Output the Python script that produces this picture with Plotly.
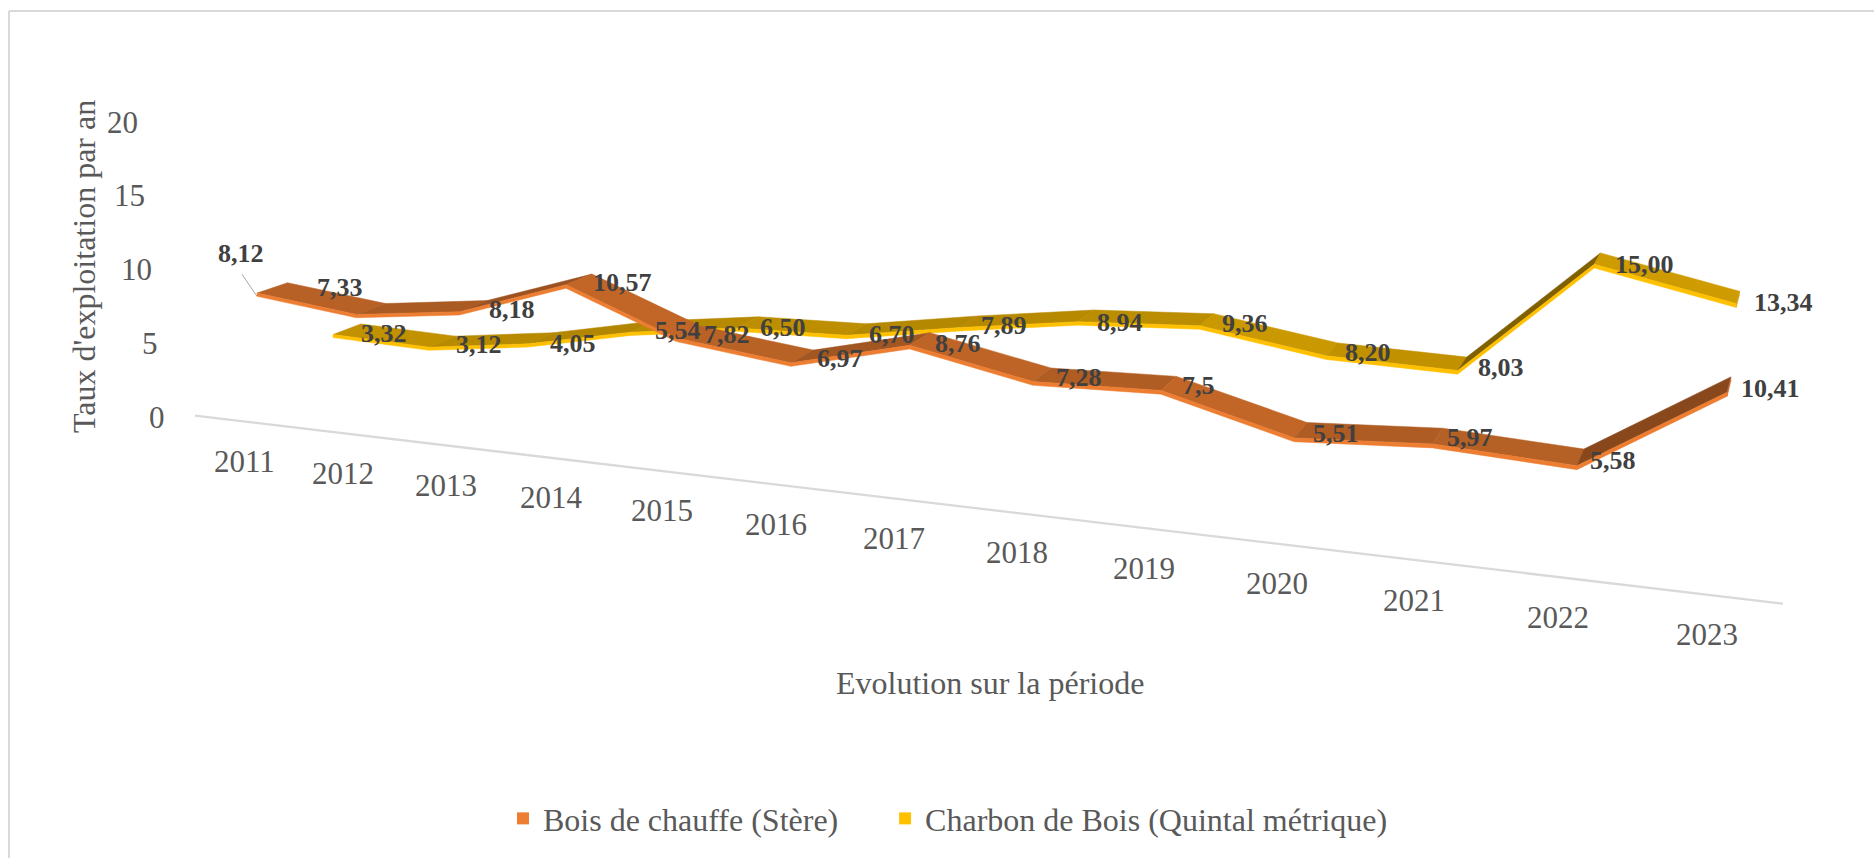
import plotly.graph_objects as go

# ---- data ----
years = [2011, 2012, 2013, 2014, 2015, 2016, 2017, 2018, 2019, 2020, 2021, 2022, 2023]
bois_de_chauffe = [8.12, 7.33, 8.18, 10.57, 7.82, 6.97, 8.76, 7.28, 7.5, 5.51, 5.97, 5.58, 10.41]
bois_labels = ["8,12", "7,33", "8,18", "10,57", "7,82", "6,97", "8,76", "7,28", "7,5", "5,51", "5,97", "5,58", "10,41"]
charbon_de_bois = [3.32, 3.12, 4.05, 5.54, 6.50, 6.70, 7.89, 8.94, 9.36, 8.20, 8.03, 15.00, 13.34]
charbon_labels = ["3,32", "3,12", "4,05", "5,54", "6,50", "6,70", "7,89", "8,94", "9,36", "8,20", "8,03", "15,00", "13,34"]
value_ticks = [0, 5, 10, 15, 20]
name_bois = "Bois de chauffe (Stère)"
name_charbon = "Charbon de Bois (Quintal métrique)"
title_x = "Evolution sur la période"
title_y = "Taux d'exploitation par an"

# ---- style ----
SERIF = "Liberation Serif"
ORANGE = (237, 125, 49)
YELLOW = (255, 192, 0)
GRID = "#D9D9D9"
TICK = "#595959"
LABEL = "#404040"
W, H = 1874, 858
RIBBON_DEPTH = 0.39
RIBBON_THICK = 0.22
AXIS_V = -0.5


def project(i, v, d=0.0):
    """3-D chart position (category index, value, depth row) -> page position."""
    w = 1 - 0.0168 * i + 0.0491 * d
    x = (93.5 * i + 257 + 92.4 * d) / w
    y = (4.47 * i + 415.7 - 12.7 * d - 14.7 * v) / w
    return x, y


def rgb(c, f=1.0):
    return "rgb(%d,%d,%d)" % tuple(round(k * f) for k in c)


def poly(xy, color):
    xs = [p[0] for p in xy] + [xy[0][0]]
    ys = [p[1] for p in xy] + [xy[0][1]]
    return go.Scatter(x=xs, y=ys, mode="lines", fill="toself", fillcolor=color,
                      line=dict(width=0.5, color=color), hoverinfo="skip", showlegend=False)


def ribbon(values, base, color):
    t = []
    n = len(values)
    d0, d1 = base, base + RIBBON_DEPTH
    for k in range(n - 1):
        a, b = values[k], values[k + 1]
        delta = b - a
        f = min(0.82, max(0.5, 0.75 - 0.036 * delta))
        t.append(poly([project(k, a + RIBBON_THICK, d0), project(k + 1, b + RIBBON_THICK, d0),
                       project(k + 1, b + RIBBON_THICK, d1), project(k, a + RIBBON_THICK, d1)],
                      rgb(color, f)))
    # end cap at the last category
    t.append(poly([project(n - 1, values[-1], d0), project(n - 1, values[-1] + RIBBON_THICK, d0),
                   project(n - 1, values[-1] + RIBBON_THICK, d1), project(n - 1, values[-1], d1)],
                  rgb(color, 0.8)))
    # bright front face
    top = [project(k, values[k] + RIBBON_THICK, d0) for k in range(n)]
    bottom = [project(k, values[k], d0) for k in range(n)]
    t.append(poly(top + bottom[::-1], rgb(color)))
    return t


fig = go.Figure()
for tr in ribbon(charbon_de_bois, 1.0, YELLOW):
    fig.add_trace(tr)
for tr in ribbon(bois_de_chauffe, 0.0, ORANGE):
    fig.add_trace(tr)

# category axis line
ax0, ay0 = project(-0.64, AXIS_V)
ax1, ay1 = project(12.36, AXIS_V)
fig.add_trace(go.Scatter(x=[ax0, ax1], y=[ay0, ay1], mode="lines",
                         line=dict(color=GRID, width=2.25), hoverinfo="skip", showlegend=False))

# legend entries
fig.add_trace(go.Scatter(x=[None], y=[None], mode="markers", name=name_bois, legend="legend",
                         marker=dict(symbol="square", size=15, color=rgb(ORANGE))))
fig.add_trace(go.Scatter(x=[None], y=[None], mode="markers", name=name_charbon, legend="legend2",
                         marker=dict(symbol="square", size=15, color=rgb(YELLOW))))

notes = []


def note(x, y, text, size=31, color=TICK, bold=False, xshift=0, yshift=0, angle=0, xanchor="center"):
    notes.append(dict(x=x, y=y, xref="x", yref="y", text=("<b>%s</b>" % text) if bold else text,
                      showarrow=False, xanchor=xanchor, yanchor="middle", textangle=angle,
                      xshift=xshift, yshift=yshift,
                      font=dict(family=SERIF, size=size, color=color)))


# category tick labels
for k, yr in enumerate(years):
    x, y = project(k - 0.13, AXIS_V)
    note(x, y, str(yr), yshift=-40)

# value tick labels
for v in value_ticks:
    note(167 - 1.35 * v, 417 - 14.75 * v, str(v), xanchor="right")

# data labels: offset of each label from its point, in page pixels
bois_dx = [-16, -16, 53, 56, 51, 49, 48, 46, 37, 42, 37, 36, 43]
bois_dy = [-43, -30, -5, -6, -7, -8, -5, -8, -9, -8, -10, -9, -8]
charbon_dx = [51, 50, 45, 47, 46, 46, 44, 42, 45, 42, 43, 50, 47]
charbon_dy = [-4, -6, -4, -5, -4, -4, -5, -3, -6, -7, -7, -4, -5]
for k, lab in enumerate(charbon_labels):
    x, y = project(k, charbon_de_bois[k], 1.0)
    note(x, y, lab, size=26, color=LABEL, bold=True, xshift=charbon_dx[k], yshift=-charbon_dy[k])
for k, lab in enumerate(bois_labels):
    x, y = project(k, bois_de_chauffe[k], 0.0)
    note(x, y, lab, size=26, color=LABEL, bold=True, xshift=bois_dx[k], yshift=-bois_dy[k])

# leader line of the first label
lx, ly = project(0, bois_de_chauffe[0])
fig.add_trace(go.Scatter(x=[lx, lx - 15], y=[ly, ly - 22], mode="lines",
                         line=dict(color="#A6A6A6", width=1), hoverinfo="skip", showlegend=False))

# axis titles
note(990, 683, title_x, size=32)
note(84, 267, title_y, size=32, angle=-90)

legend_common = dict(orientation="h", xanchor="left", yanchor="top", y=0.078,
                     font=dict(family=SERIF, size=32, color=TICK), bgcolor="rgba(0,0,0,0)",
                     itemsizing="constant")
fig.update_layout(
    width=W, height=H, margin=dict(l=0, r=0, t=0, b=0),
    paper_bgcolor="white", plot_bgcolor="white",
    xaxis=dict(range=[0, W], visible=False, fixedrange=True),
    yaxis=dict(range=[H, 0], visible=False, fixedrange=True),
    annotations=notes,
    shapes=[dict(type="line", xref="x", yref="y", x0=9, x1=W, y0=11, y1=11, line=dict(color=GRID, width=2)),
            dict(type="line", xref="x", yref="y", x0=9, x1=9, y0=11, y1=H, line=dict(color=GRID, width=2))],
    showlegend=True,
    legend=dict(x=0.2684, **legend_common),
    legend2=dict(x=0.4723, **legend_common),
)

fig.write_html("out.html", config={"displayModeBar": False},
               post_script="document.body.style.margin='0';document.documentElement.style.overflow='hidden';")
